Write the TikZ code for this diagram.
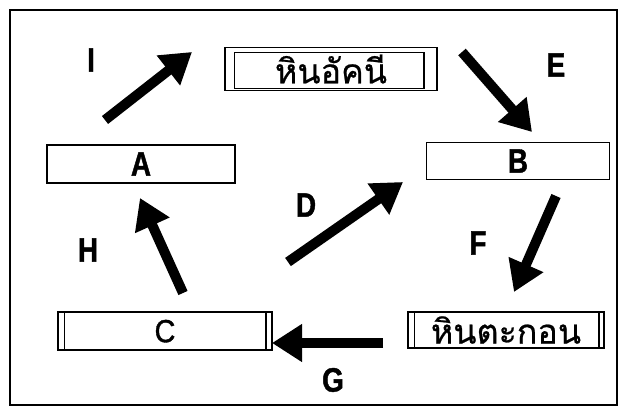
\documentclass[tikz,border=0pt]{standalone}
\usepackage{fontspec}
\setmainfont{Liberation Sans}
\newfontfamily\thaifont[Script=Thai,FakeBold=0.6]{Loma}
\newfontfamily\heavyfont[FakeBold=1.2,FakeStretch=0.82]{Liberation Sans Bold}
\newfontfamily\plainfont[FakeBold=1.2,FakeStretch=0.9]{Liberation Sans}
\usetikzlibrary{arrows.meta}
\begin{document}
\begin{tikzpicture}[x=1pt,y=-1pt,
  box/.style={draw,line width=1.8pt,inner sep=0pt,font=\heavyfont\fontsize{34}{34}\selectfont},
  thai/.style={font=\thaifont\fontsize{34}{34}\selectfont},
  flow/.style={line width=10pt,-{Triangle[length=30pt,width=36pt]}},
  lbl/.style={font=\heavyfont\fontsize{34}{34}\selectfont},
  inner/.style={line width=1.2pt}]
\useasboundingbox (0,0) rectangle (621,412);
\fill[white] (0,0) rectangle (621,412);
\draw[line width=1.6pt] (10,10) rectangle (617,405);
% boxes
\node[box,thai,minimum width=212pt,minimum height=43pt] (ign) at (331,69) {หินอัคนี};
\draw[inner] ([xshift=10pt,yshift=-6pt]ign.north west) rectangle ([xshift=-14pt,yshift=3pt]ign.south east);
\node[box,minimum width=188pt,minimum height=38pt] (A) at (141,164) {A};
\node[box,minimum width=183pt,minimum height=37pt] (B) at (518,161) {B};
\node[box,font=\plainfont\fontsize{32}{32}\selectfont,minimum width=214pt,minimum height=38pt,text depth=-3pt] (C) at (165,331) {C};
\draw[inner] ([xshift=7pt]C.north west) -- ([xshift=7pt]C.south west);
\draw[inner] ([xshift=-7pt]C.north east) -- ([xshift=-7pt]C.south east);
\node[box,thai,minimum width=196pt,minimum height=36pt] (sed) at (506,330) {หินตะกอน};
\draw[inner] ([xshift=7pt]sed.north west) -- ([xshift=7pt]sed.south west);
\draw[inner] ([xshift=-6pt]sed.north east) -- ([xshift=-6pt]sed.south east);
% arrow ends
\coordinate (i1) at (105,120); \coordinate (i2) at (192,52);
\coordinate (e1) at (462,52);  \coordinate (e2) at (532,132);
\coordinate (d1) at (288,262); \coordinate (d2) at (403,182);
\coordinate (f1) at (556,196); \coordinate (f2) at (514,292);
\coordinate (h1) at (183,293); \coordinate (h2) at (140,198);
\coordinate (g1) at (383,343); \coordinate (g2) at (272,343);
\draw[flow] (i1) -- (i2);
\draw[flow] (e1) -- (e2);
\draw[flow] (d1) -- (d2);
\draw[flow] (f1) -- (f2);
\draw[flow] (h1) -- (h2);
\draw[flow] (g1) -- (g2);
% labels
\node[lbl] (lI) at (91,60) {I};
\node[lbl] (lE) at (556,65) {E};
\node[lbl] (lD) at (306,205) {D};
\node[lbl] (lH) at (88,250) {H};
\node[lbl] (lF) at (478,243) {F};
\node[lbl] (lG) at (333,380) {G};
\end{tikzpicture}
\end{document}
